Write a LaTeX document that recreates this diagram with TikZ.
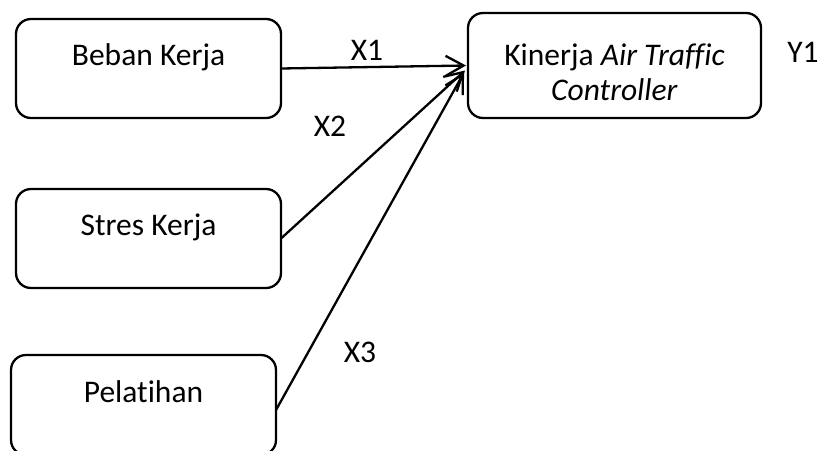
\documentclass[tikz,border=0pt]{standalone}
\usepackage{fontspec}
\setmainfont{Carlito}[Ligatures=NoCommon]
\usetikzlibrary{arrows.meta,positioning}

\begin{document}
\begin{tikzpicture}[x=1pt, y=-1pt, line width=2.3pt,
    box/.style={draw, rounded corners=15pt, inner sep=0pt, outer sep=0pt,
        minimum width=265pt, text height=46pt, text depth=53pt,
        font=\fontsize{31.5}{35}\selectfont},
    lbl/.style={anchor=base, inner sep=0pt, font=\fontsize{31.5}{35}\selectfont},
    arr/.style={-{Straight Barb[length=18pt, width=20pt]}}]
    \useasboundingbox (0,0) rectangle (837,450);

    \node[box, anchor=north west] (beban) at (16,19) {Beban Kerja};
    \node[box, anchor=north west] (stres) at (16,189) {Stres Kerja};
    \node[box, anchor=north west, text height=47pt] (latih) at (11,355) {Pelatihan};
    \node[box, anchor=north west, minimum width=293pt, align=center,
        text height=87pt, text depth=18pt] (kinerja) at (468,13)
        {Kinerja \textit{Air Traffic}\\ \textit{Controller}};

    \draw[arr] (beban.east) -- ([xshift=-2pt]kinerja.west);
    \draw[arr] (stres.east) -- ([xshift=-3pt, yshift=-5pt]kinerja.west);
    \draw[arr] ([yshift=-5pt]latih.east) -- ([xshift=-4pt, yshift=-7pt]kinerja.west);

    \node[lbl] (x1) at (367,60) {X1};
    \node[lbl] (x2) at (330,136) {X2};
    \node[lbl] (x3) at (360,362) {X3};
    \node[lbl] (y1) at (803,62) {Y1};
\end{tikzpicture}
\end{document}
